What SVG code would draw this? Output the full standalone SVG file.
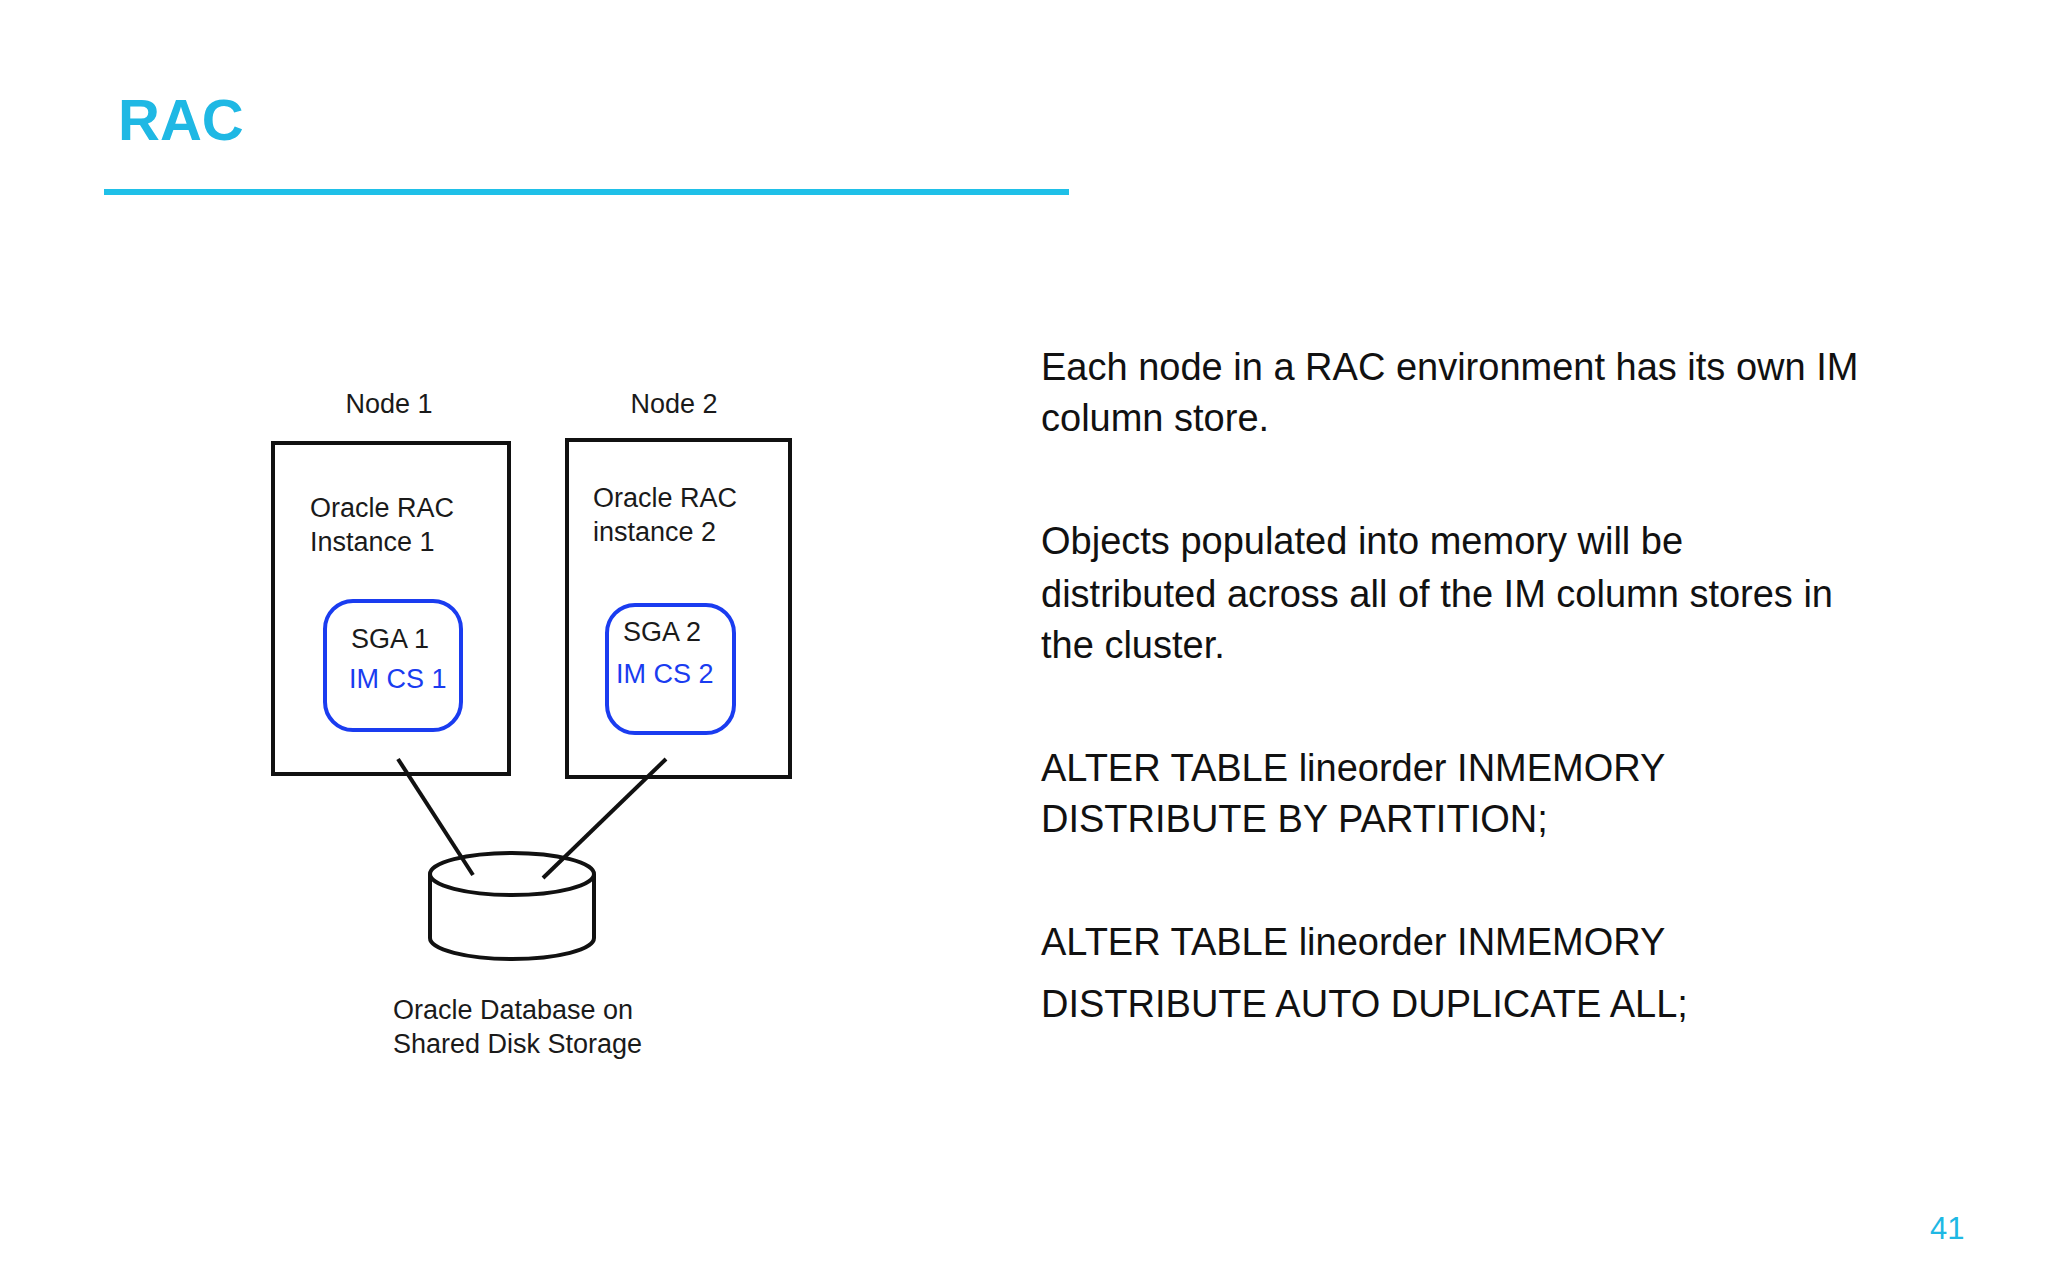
<svg xmlns="http://www.w3.org/2000/svg" width="2048" height="1280" viewBox="0 0 2048 1280">
<style>
.d{font-family:"Liberation Sans",Arial,sans-serif;font-size:27px;fill:#1a1a1a}
.b{fill:#1a3cf0}
.r{font-family:"Liberation Sans",Arial,sans-serif;font-size:38px;fill:#111}
.box{fill:none;stroke:#111;stroke-width:4}
.sga{fill:none;stroke:#1a3cf0;stroke-width:4}
</style>
<rect width="2048" height="1280" fill="#fff"/>
<text x="118" y="140" font-family="Liberation Sans,Arial,sans-serif" font-size="58" font-weight="bold" fill="#1fb8e4">RAC</text>
<rect x="104" y="189" width="965" height="6" fill="#1fc0e8"/>
<g id="node1">
<text class="d" x="389" y="413" text-anchor="middle">Node 1</text>
<rect class="box" x="273" y="443" width="236" height="331"/>
<text class="d" x="310" y="517">Oracle RAC</text>
<text class="d" x="310" y="551">Instance 1</text>
</g>
<g id="sga1">
<rect class="sga" x="325" y="601" width="136" height="129" rx="28"/>
<text class="d" x="351" y="648">SGA 1</text>
<text class="d b" x="349" y="688">IM CS 1</text>
</g>
<g id="node2">
<text class="d" x="674" y="413" text-anchor="middle">Node 2</text>
<rect class="box" x="567" y="440" width="223" height="337"/>
<text class="d" x="593" y="507">Oracle RAC</text>
<text class="d" x="593" y="541">instance 2</text>
</g>
<g id="sga2">
<rect class="sga" x="607" y="605" width="127" height="128" rx="28"/>
<text class="d" x="623" y="641">SGA 2</text>
<text class="d b" x="616" y="683">IM CS 2</text>
</g>
<g id="storage">
<path d="M430 874 V938 A82 21 0 0 0 594 938 V874" fill="none" stroke="#111" stroke-width="4"/>
<ellipse cx="512" cy="874" rx="82" ry="21" fill="none" stroke="#111" stroke-width="4"/>
<text class="d" x="393" y="1019">Oracle Database on</text>
<text class="d" x="393" y="1053">Shared Disk Storage</text>
</g>
<g id="connectors" stroke="#111" stroke-width="4">
<line x1="398" y1="759" x2="473" y2="875"/>
<line x1="666" y1="759" x2="543" y2="878"/>
</g>
<g id="text">
<text class="r" x="1041" y="380">Each node in a RAC environment has its own IM</text>
<text class="r" x="1041" y="431">column store.</text>
<text class="r" x="1041" y="554">Objects populated into memory will be</text>
<text class="r" x="1041" y="607">distributed across all of the IM column stores in</text>
<text class="r" x="1041" y="658">the cluster.</text>
<text class="r" x="1041" y="781">ALTER TABLE lineorder INMEMORY</text>
<text class="r" x="1041" y="832">DISTRIBUTE BY PARTITION;</text>
<text class="r" x="1041" y="955">ALTER TABLE lineorder INMEMORY</text>
<text class="r" x="1041" y="1017">DISTRIBUTE AUTO DUPLICATE ALL;</text>
</g>
<text x="1930" y="1239" font-family="Liberation Sans,Arial,sans-serif" font-size="31" fill="#1fb8e4">41</text>
</svg>
